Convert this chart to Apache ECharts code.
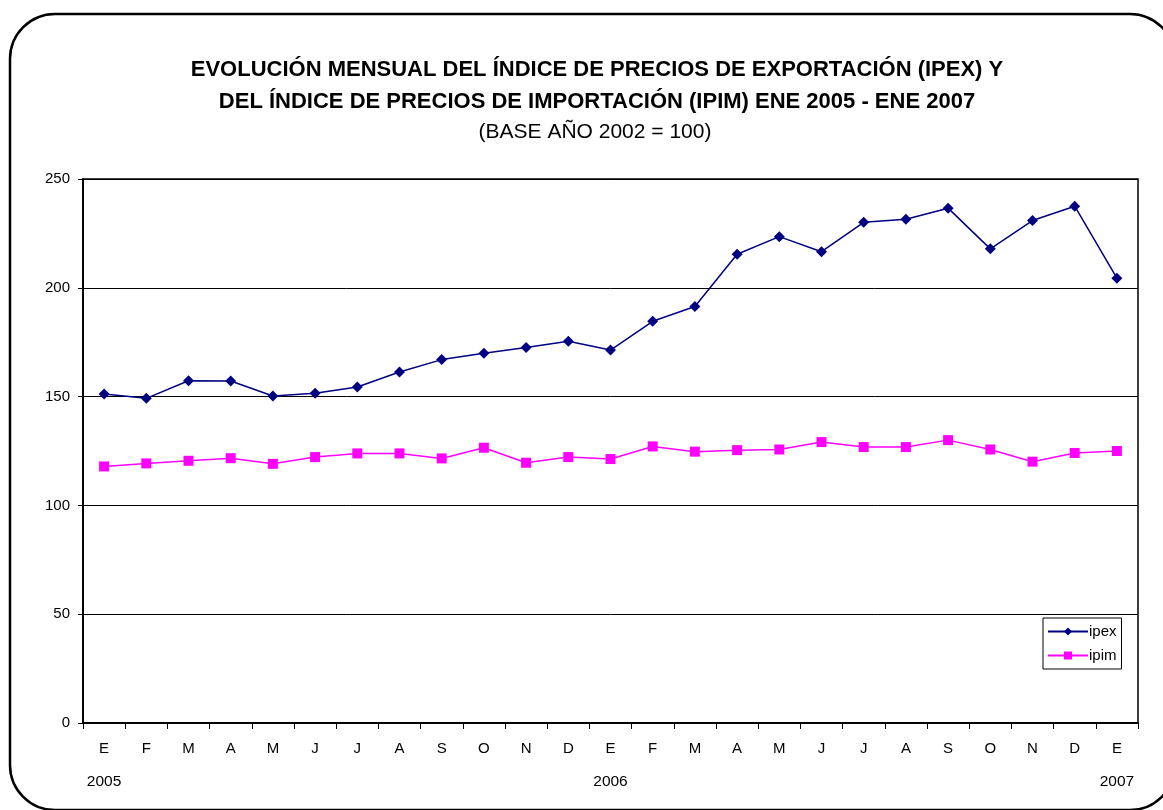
<!DOCTYPE html>
<html><head><meta charset="utf-8">
<script src="https://cdn.jsdelivr.net/npm/echarts@6/dist/echarts.min.js"></script>
<style>html,body{margin:0;padding:0;background:#fff}#c{width:1163px;height:810px}</style>
</head><body><div id="c"></div>
<script>
const months = ['E','F','M','A','M','J','J','A','S','O','N','D','E','F','M','A','M','J','J','A','S','O','N','D','E'];
const yearLabels = ['2005','','','','','','','','','','','','2006','','','','','','','','','','','','2007'];
const ipex = [151.2,149.2,157.3,157.2,150.3,151.5,154.4,161.3,167.0,169.9,172.6,175.4,171.4,184.6,191.4,215.4,223.5,216.6,230.1,231.5,236.6,217.9,230.9,237.5,204.4];
const ipim = [117.9,119.3,120.5,121.7,119.1,122.2,123.9,123.9,121.6,126.5,119.6,122.2,121.3,127.1,124.7,125.4,125.7,129.1,126.8,126.8,130.0,125.7,120.1,124.1,125.0];
const yTicks = {min:0, max:250, interval:50};

const chart = echarts.init(document.getElementById('c'), null, {renderer:'canvas'});
const baseFont = "'Liberation Sans', Arial, sans-serif";
chart.setOption({
  animation:false,
  backgroundColor:'#fff',
  graphic:[{type:'rect', shape:{x:10,y:14,width:1165,height:796,r:45}, style:{fill:'none', stroke:'#000', lineWidth:2.5}, z:-1}],
  title:[
    {text:'EVOLUCIÓN MENSUAL DEL ÍNDICE DE PRECIOS DE EXPORTACIÓN (IPEX) Y\nDEL ÍNDICE DE PRECIOS DE IMPORTACIÓN (IPIM) ENE 2005 - ENE 2007',
     left:592, top:49, textAlign:'center',
     textStyle:{fontFamily:baseFont, fontSize:22, fontWeight:'bold', color:'#000', lineHeight:32}},
    {text:'(BASE AÑO 2002 = 100)', left:590, top:117, textAlign:'center',
     textStyle:{fontFamily:baseFont, fontSize:21, fontWeight:'normal', color:'#000'}}
  ],
  legend:{
    orient:'vertical', left:1043, top:618, padding:[6,5,6,4],
    borderColor:'#000', borderWidth:1, itemGap:9,
    itemWidth:40, itemHeight:10,
    textStyle:{fontFamily:baseFont, fontSize:15, color:'#000', padding:[0,0,0,-4]},
    data:['ipex','ipim']
  },
  grid:{left:83, right:25, top:179, bottom:87, show:true, borderColor:'#000', borderWidth:1.5, containLabel:false},
  xAxis:[
    {type:'category', data:months, boundaryGap:true,
     axisLine:{lineStyle:{color:'#000', width:2}},
     axisTick:{show:true, interval:0, length:6, lineStyle:{color:'#000', width:1}},
     axisLabel:{interval:0, margin:18, fontFamily:baseFont, fontSize:15, color:'#000'}},
    {type:'category', data:yearLabels, boundaryGap:true, position:'bottom', offset:43,
     axisLine:{show:false}, axisTick:{show:false},
     axisLabel:{interval:0, fontFamily:baseFont, fontSize:15.5, color:'#000'}}
  ],
  yAxis:{type:'value', min:yTicks.min, max:yTicks.max, interval:yTicks.interval,
    axisLine:{show:true, lineStyle:{color:'#000', width:2}},
    axisTick:{show:true, length:5, lineStyle:{color:'#000'}},
    axisLabel:{margin:13, fontFamily:baseFont, fontSize:15, color:'#000'},
    splitLine:{show:true, lineStyle:{color:'#000', width:1}}},
  series:[
    {name:'ipex', type:'line', data:ipex, xAxisIndex:0, symbol:'diamond', symbolSize:11,
     lineStyle:{color:'#000080', width:1.5}, itemStyle:{color:'#000080'}},
    {name:'ipim', type:'line', data:ipim, xAxisIndex:0, symbol:'rect', symbolSize:10,
     lineStyle:{color:'#FF00FF', width:1.5}, itemStyle:{color:'#FF00FF'}}
  ]
});
</script></body></html>
